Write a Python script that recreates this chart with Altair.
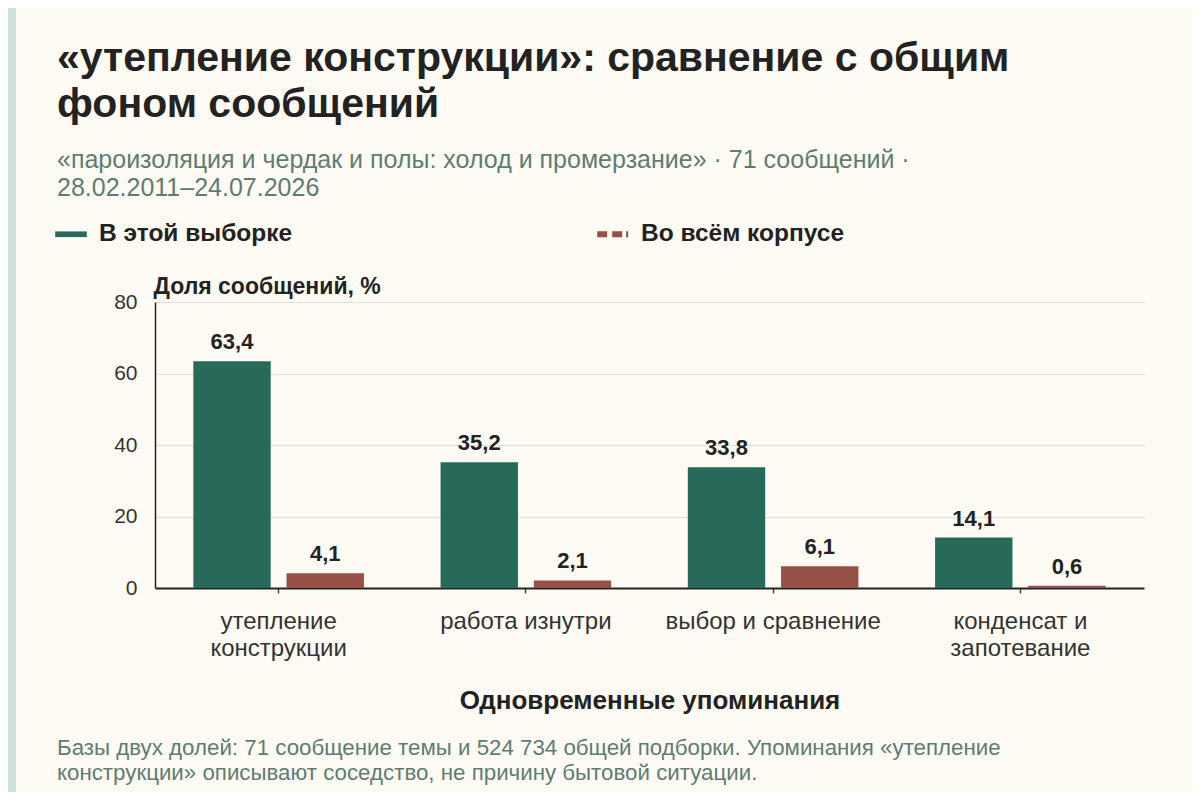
import altair as alt
import pandas as pd

title_lines = ["«утепление конструкции»: сравнение с общим", "фоном сообщений"]
subtitle_lines = ["«пароизоляция и чердак и полы: холод и промерзание» · 71 сообщений ·",
                  "28.02.2011–24.07.2026"]
categories = ["утепление конструкции", "работа изнутри", "выбор и сравнение", "конденсат и запотевание"]
category_lines = [["утепление", "конструкции"], ["работа изнутри"], ["выбор и сравнение"],
                  ["конденсат и", "запотевание"]]
series = ["В этой выборке", "Во всём корпусе"]
sample_share = [63.4, 35.2, 33.8, 14.1]
corpus_share = [4.1, 2.1, 6.1, 0.6]
y_ticks = [0, 20, 40, 60, 80]
footer_lines = ["Базы двух долей: 71 сообщение темы и 524 734 общей подборки. Упоминания «утепление",
                "конструкции» описывают соседство, не причину бытовой ситуации."]
x_title = "Одновременные упоминания"
y_title = "Доля сообщений, %"

FONT = "Liberation Sans"
GREEN = "#286a5a"
RED = "#975046"
BG = "#fdfbf4"
STRIP = "#cfe1da"
INK = "#222222"
MUTED = "#5d7d72"

# legend glyphs in the unit square [-1, 1]: a solid line and a dashed line
SOLID_SYMBOL = "M-1,-0.18H1V0.18H-1Z"
DASHED_SYMBOL = ("M-1,-0.19H-0.37V0.19H-1Z "
                 "M-0.05,-0.19H0.58V0.19H-0.05Z "
                 "M0.83,-0.19H0.96V0.19H0.83Z")

rows = []
for c, a, b in zip(categories, sample_share, corpus_share):
    rows.append({"category": c, "series": series[0], "value": a})
    rows.append({"category": c, "series": series[1], "value": b})
df = pd.DataFrame(rows)

def js_str(s):
    return "'" + s.replace("'", "\\'") + "'"

label_expr = ""
for c, lines in zip(categories, category_lines):
    arr = "[" + ",".join(js_str(l) for l in lines) + "]"
    label_expr += f"datum.value == {js_str(c)} ? {arr} : "
label_expr += "datum.value"

x_enc = alt.X("category:N", sort=categories,
              scale=alt.Scale(paddingInner=0.31, paddingOuter=0.155),
              axis=alt.Axis(title=x_title, labelAngle=0, labelExpr=label_expr,
                            labelFontSize=24, labelColor="#333333", labelFont=FONT,
                            labelLineHeight=27, labelPadding=16, labelLimit=400,
                            tickSize=5, tickColor="#444444", tickWidth=1.5,
                            domainColor=INK, domainWidth=2, grid=False,
                            titleFontSize=26, titleFont=FONT, titleFontWeight="bold",
                            titleColor=INK, titleY=99, titleBaseline="top"))
xo_enc = alt.XOffset("series:N", sort=series, scale=alt.Scale(paddingInner=0.17, paddingOuter=0))
y_enc = alt.Y("value:Q", scale=alt.Scale(domain=[0, 80], nice=False),
              axis=alt.Axis(title=y_title, values=y_ticks, tickSize=0, labelPadding=18,
                            labelFontSize=21, labelColor="#333333", labelFont=FONT,
                            grid=True, gridColor="#dddddd", gridWidth=1.2,
                            domainColor=INK, domainWidth=1.5,
                            titleAngle=0, titleX=-2, titleY=-9, titleAlign="left",
                            titleBaseline="alphabetic", titleFontSize=23, titleFont=FONT,
                            titleFontWeight="bold", titleColor=INK))

leg = alt.Legend(title=None, orient="none", legendX=-100, legendY=-84,
                 direction="horizontal", symbolSize=1000, symbolStrokeWidth=0, symbolOpacity=1,
                 labelFontSize=24.5, labelFontWeight="bold", labelColor=INK, labelFont=FONT,
                 columnPadding=304, labelOffset=12, labelLimit=400)

color_enc = alt.Color("series:N", scale=alt.Scale(domain=series, range=[GREEN, RED]), legend=leg)

base = alt.Chart(df)

bars = base.mark_bar().encode(
    x=x_enc, xOffset=xo_enc, y=y_enc, color=color_enc,
)

labels = base.transform_calculate(
    label="replace(format(datum.value, '.1f'), '.', ',')"
).mark_text(font=FONT, fontSize=22, fontWeight="bold", baseline="bottom", dy=-7, color=INK).encode(
    x=x_enc, xOffset=xo_enc, y=y_enc, text="label:N"
)

legend_layer = base.mark_point(size=0, filled=True, opacity=1).encode(
    x=x_enc, xOffset=xo_enc, y=y_enc, color=color_enc,
    shape=alt.Shape("series:N", scale=alt.Scale(domain=series, range=[SOLID_SYMBOL, DASHED_SYMBOL]),
                    legend=leg),
)

one = pd.DataFrame({"k": [0]})
strip = alt.Chart(one).mark_rect(color=STRIP).encode(
    x=alt.value(-147), x2=alt.value(-139), y=alt.value(-294), y2=alt.value(490)
)
footer = alt.Chart(one).mark_text(text=footer_lines, font=FONT, fontSize=22.3, color=MUTED,
                                  align="left", baseline="top", lineHeight=25).encode(
    x=alt.value(-98), y=alt.value(435)
)

chart = alt.layer(strip, bars, labels, legend_layer, footer).properties(
    width=989, height=286,
    autosize=alt.AutoSizeParams(type="none"),
    padding={"left": 147, "top": 294, "right": 48, "bottom": 204},
    background=BG,
    title=alt.TitleParams(text=title_lines, subtitle=subtitle_lines, anchor="start", frame="group",
                          dx=-98, offset=-194, font=FONT, fontSize=41, fontWeight="bold",
                          color=INK, lineHeight=46, subtitleFont=FONT, subtitleFontSize=25,
                          subtitleColor=MUTED, subtitleLineHeight=28, subtitlePadding=22),
).configure_view(stroke=None)

chart.save("out.html", embed_options={"renderer": "svg", "actions": False})
